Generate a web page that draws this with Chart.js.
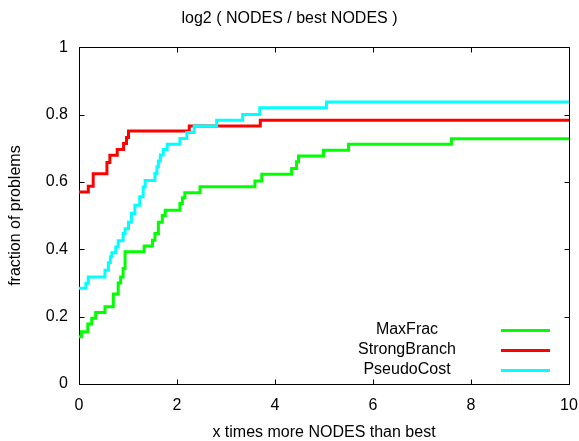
<!DOCTYPE html>
<html>
<head>
<meta charset="utf-8">
<script src="https://cdn.jsdelivr.net/npm/chart.js@4/dist/chart.umd.min.js"></script>
<style>
  html, body { margin: 0; padding: 0; background: #fff; }
  #wrap { width: 579px; height: 441px; position: relative; }
</style>
</head>
<body>
<div id="wrap"><canvas id="c" width="579" height="441"></canvas></div>
<script>
// ---- data (x = log2 ratio where a step happens, y = fraction after the step) ----
const titleText = "log2 ( NODES / best NODES )";
const xTitle = "x times more NODES than best";
const yTitle = "fraction of problems";
const seriesNames = ["MaxFrac", "StrongBranch", "PseudoCost"];
const seriesColors = ["#00ff00", "#ff0000", "#00ffff"];
const xTicks = [0, 2, 4, 6, 8, 10];
const yTicks = [0, 0.2, 0.4, 0.6, 0.8, 1];

const maxFracX = [0, 0.05, 0.18, 0.26, 0.34, 0.53, 0.70, 0.80, 0.85, 0.90, 0.94, 1.33, 1.50, 1.55, 1.62, 1.70, 1.76, 2.06, 2.11, 2.16, 2.47, 3.59, 3.73, 4.34, 4.44, 4.48, 4.99, 5.50, 7.60, 10];
const maxFracY = [0.140, 0.155, 0.178, 0.195, 0.212, 0.229, 0.267, 0.300, 0.318, 0.343, 0.393, 0.410, 0.427, 0.447, 0.480, 0.500, 0.516, 0.536, 0.553, 0.568, 0.586, 0.603, 0.623, 0.640, 0.660, 0.677, 0.694, 0.712, 0.728, 0.728];

const strongX = [0, 0.19, 0.29, 0.57, 0.63, 0.78, 0.91, 0.97, 1.01, 2.25, 3.70, 10];
const strongY = [0.570, 0.587, 0.624, 0.658, 0.679, 0.696, 0.714, 0.732, 0.751, 0.766, 0.783, 0.783];

const pseudoX = [0, 0.14, 0.19, 0.53, 0.60, 0.64, 0.67, 0.75, 0.80, 0.90, 0.94, 1.01, 1.07, 1.14, 1.24, 1.31, 1.35, 1.55, 1.59, 1.62, 1.66, 1.72, 1.80, 2.06, 2.20, 2.35, 2.81, 3.34, 3.69, 5.05, 10];
const pseudoY = [0.284, 0.299, 0.318, 0.338, 0.360, 0.378, 0.390, 0.407, 0.425, 0.447, 0.461, 0.480, 0.506, 0.531, 0.556, 0.585, 0.604, 0.625, 0.645, 0.662, 0.680, 0.696, 0.712, 0.729, 0.747, 0.766, 0.783, 0.800, 0.820, 0.837, 0.837];

const FONT = "'Liberation Sans', Arial, sans-serif";

function pts(xs, ys) { return xs.map((x, i) => ({ x: x, y: ys[i] })); }

// frame + inward ticks (gnuplot style)
const framePlugin = {
  id: 'frame',
  beforeDatasetsDraw(chart) {
    const { ctx, chartArea: a, scales } = chart;
    ctx.save();
    ctx.strokeStyle = '#000';
    ctx.lineWidth = 1;
    const L = Math.round(a.left) + 0.5, R = Math.round(a.right) + 0.5;
    const T = Math.round(a.top) + 0.5, B = Math.round(a.bottom) + 0.5;
    ctx.beginPath();
    xTicks.forEach(v => {
      const px = Math.round(scales.x.getPixelForValue(v)) + 0.5;
      ctx.moveTo(px, B); ctx.lineTo(px, B - 5);
      ctx.moveTo(px, T); ctx.lineTo(px, T + 5);
    });
    yTicks.forEach(v => {
      const py = Math.round(scales.y.getPixelForValue(v)) + 0.5;
      ctx.moveTo(L, py); ctx.lineTo(L + 5, py);
      ctx.moveTo(R, py); ctx.lineTo(R - 5, py);
    });
    ctx.stroke();
    ctx.beginPath();
    ctx.rect(L, T, R - L, B - T);
    ctx.stroke();
    ctx.restore();
  },
  afterDraw(chart) {
    // key inside the plot, bottom right
    const { ctx } = chart;
    ctx.save();
    ctx.font = "16px " + FONT;
    ctx.textAlign = 'center';
    ctx.textBaseline = 'middle';
    chart.data.datasets.forEach((ds, i) => {
      const y = 330 + i * 20;
      ctx.fillStyle = '#000';
      ctx.fillText(ds.label, 407, y);
      ctx.strokeStyle = ds.borderColor;
      ctx.lineWidth = 3;
      ctx.beginPath();
      ctx.moveTo(501, y + 0.5); ctx.lineTo(550, y + 0.5);
      ctx.stroke();
    });
    ctx.restore();
  }
};

const data = {
  datasets: [
    { label: seriesNames[0], data: pts(maxFracX, maxFracY), borderColor: seriesColors[0] },
    { label: seriesNames[1], data: pts(strongX, strongY), borderColor: seriesColors[1] },
    { label: seriesNames[2], data: pts(pseudoX, pseudoY), borderColor: seriesColors[2] }
  ].map(d => Object.assign(d, { stepped: 'before', borderWidth: 3, pointRadius: 0, fill: false, tension: 0 }))
};
// draw order: gnuplot draws later series on top
data.datasets[0].order = 3; data.datasets[1].order = 2; data.datasets[2].order = 1;

new Chart(document.getElementById('c'), {
  type: 'line',
  data: data,
  plugins: [framePlugin],
  options: {
    responsive: false,
    animation: false,
    devicePixelRatio: 1,
    layout: { padding: { left: 0, right: 0, top: 0, bottom: 0 } },
    plugins: {
      legend: { display: false },
      tooltip: { enabled: false },
      title: {
        display: true, text: titleText, color: '#000',
        font: { family: FONT, size: 16, weight: 'normal', lineHeight: 1.2 },
        padding: { top: 9, bottom: 19 }
      }
    },
    scales: {
      x: {
        type: 'linear', min: 0, max: 10,
        afterBuildTicks(s) { s.ticks = xTicks.map(v => ({ value: v })); },
        afterFit(s) { s.height = 57; s.paddingLeft = 0; s.paddingRight = 10; },
        grid: { display: false, drawTicks: false },
        border: { display: false },
        ticks: { color: '#000', padding: 12, maxRotation: 0, font: { family: FONT, size: 16 } },
        title: { display: true, text: xTitle, color: '#000', padding: { top: 0, bottom: 0 }, font: { family: FONT, size: 16, lineHeight: 1.0 } }
      },
      y: {
        type: 'linear', min: 0, max: 1,
        afterBuildTicks(s) { s.ticks = yTicks.map(v => ({ value: v })); },
        afterFit(s) { s.width = 79; },
        grid: { display: false, drawTicks: false },
        border: { display: false },
        ticks: { color: '#000', padding: 11, font: { family: FONT, size: 16 }, callback: v => String(v) },
        title: { display: true, text: yTitle, color: '#000', padding: { top: 6, bottom: 0 }, font: { family: FONT, size: 16 } }
      }
    }
  }
});
</script>
</body>
</html>
